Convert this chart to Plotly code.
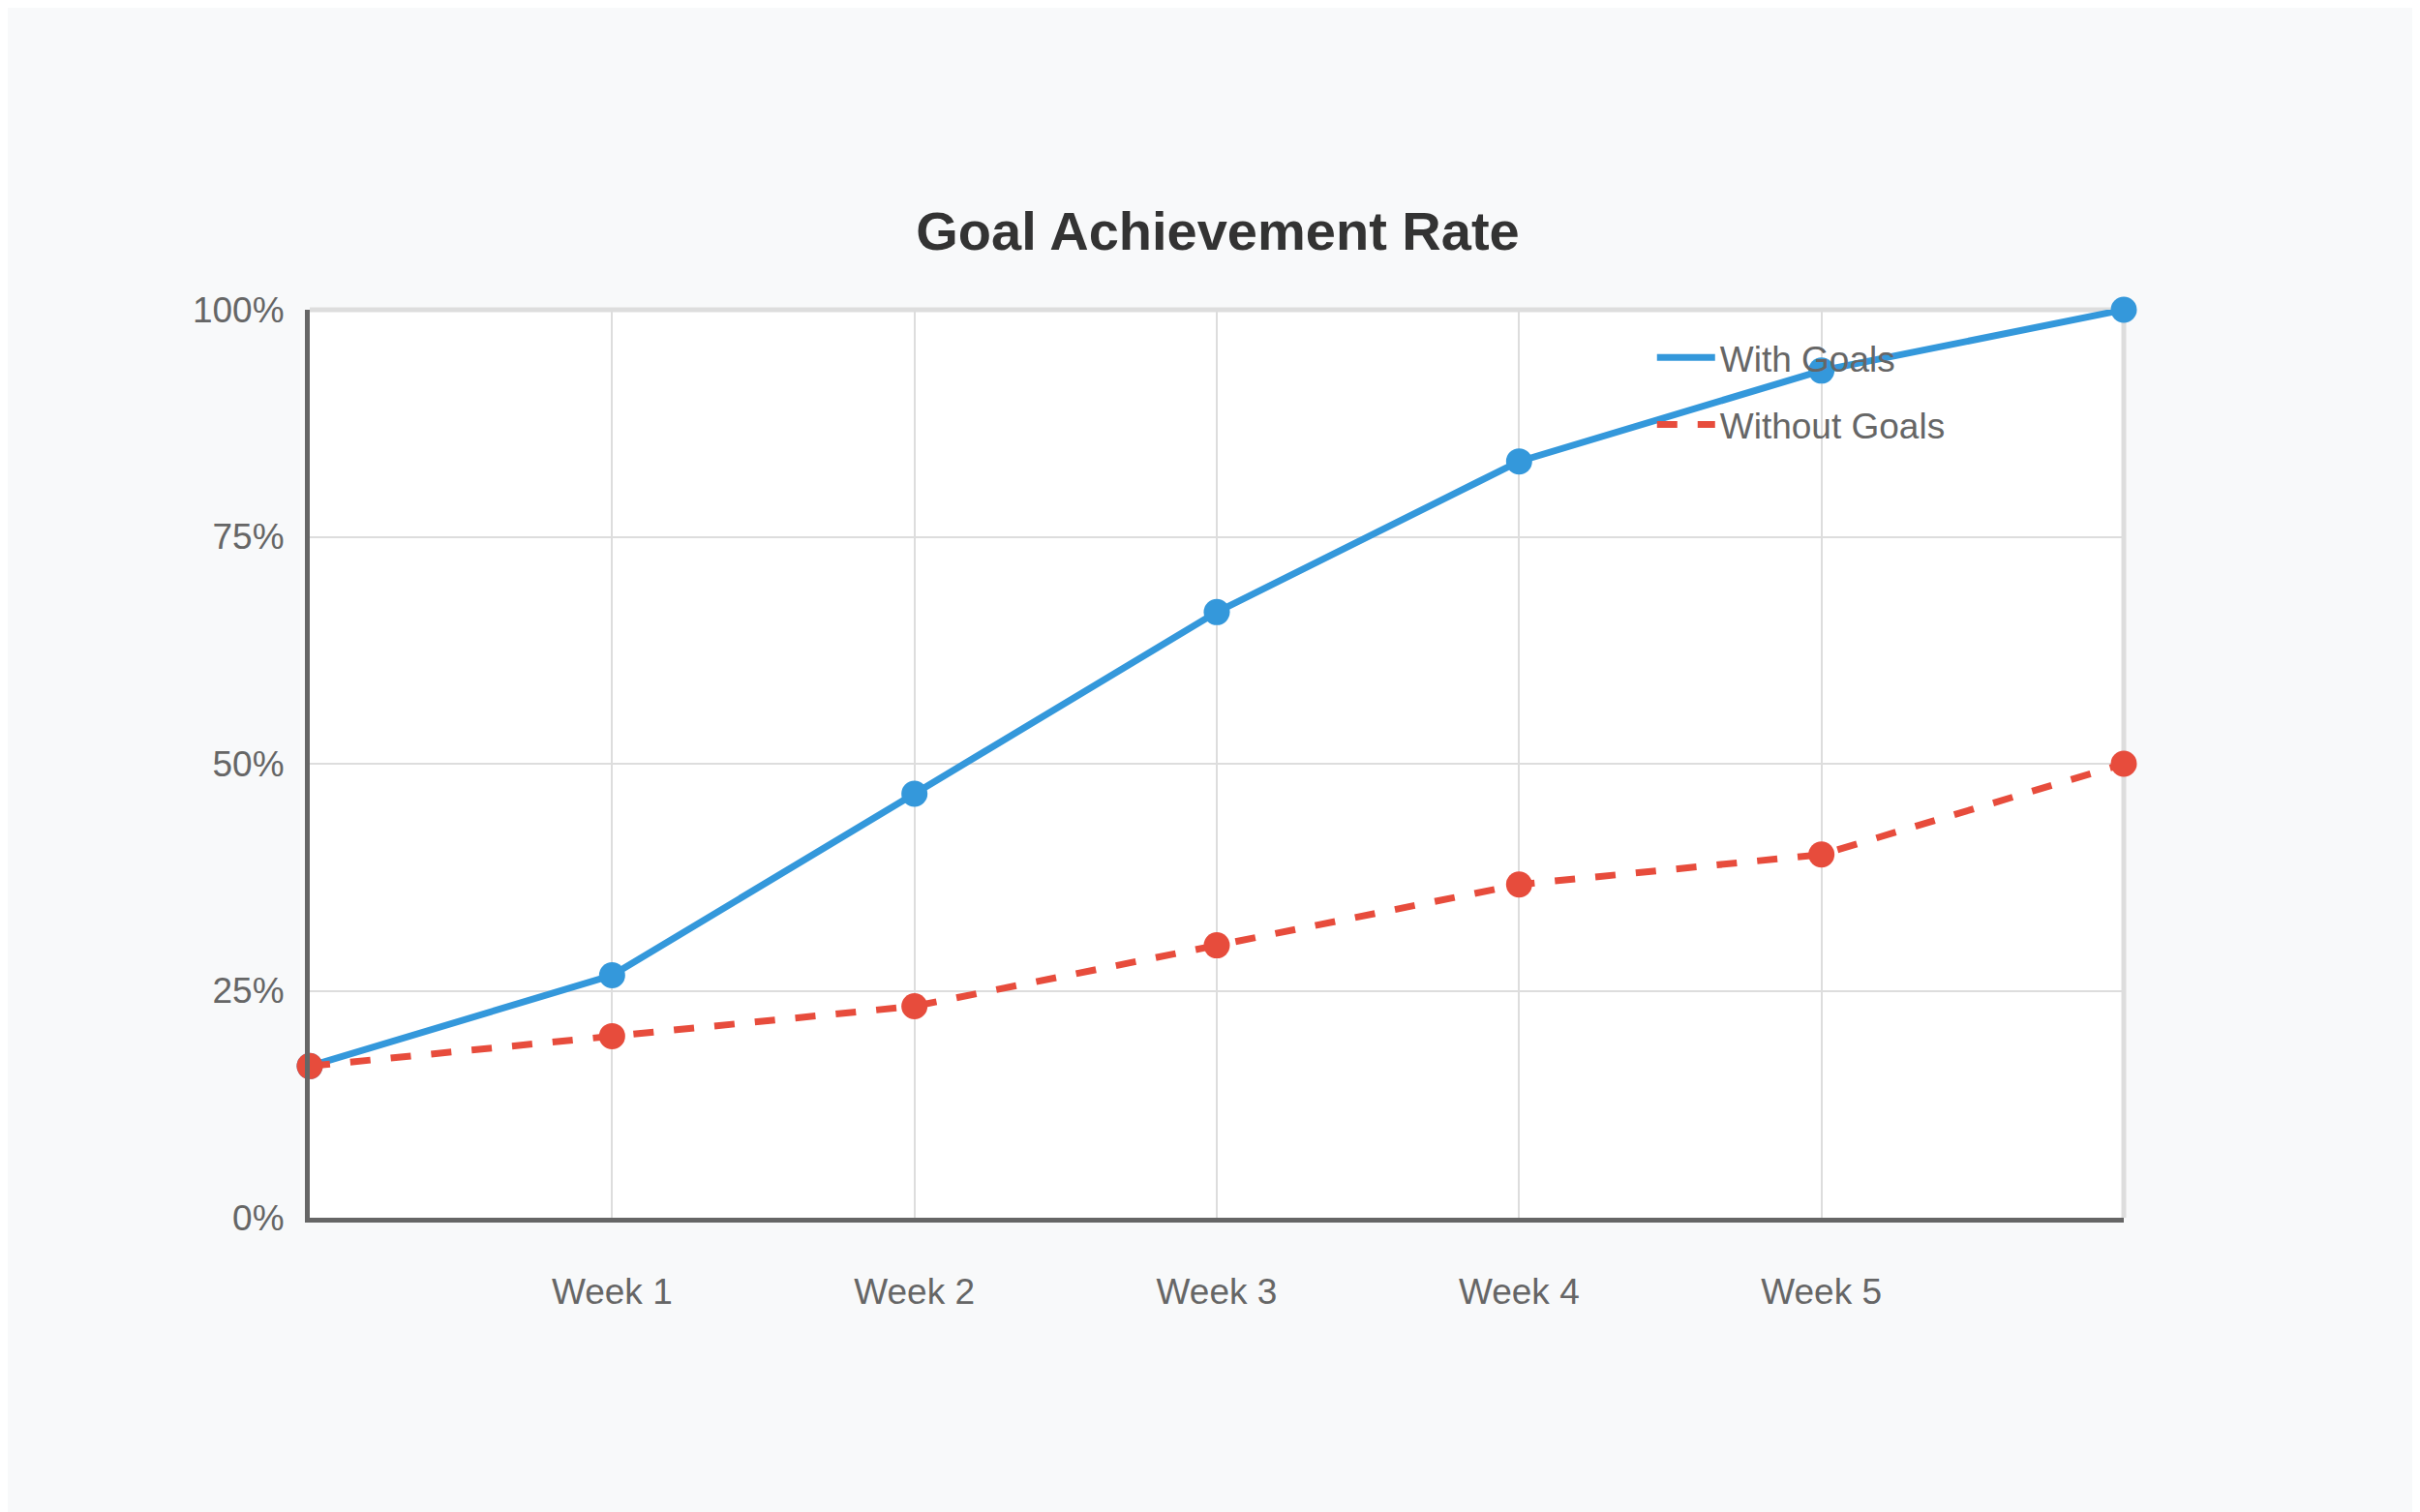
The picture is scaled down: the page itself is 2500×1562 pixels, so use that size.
import plotly.graph_objects as go

x_pos = [0, 1, 2, 3, 4, 5, 6]
tick_vals = [1, 2, 3, 4, 5]
tick_text = ["Week 1", "Week 2", "Week 3", "Week 4", "Week 5"]
with_goals = [16.7, 26.7, 46.7, 66.7, 83.3, 93.3, 100]
without_goals = [16.7, 20.0, 23.3, 30.0, 36.7, 40.0, 50.0]

fig = go.Figure()
fig.add_trace(go.Scatter(x=x_pos, y=with_goals, name="With Goals", mode="lines+markers", showlegend=False,
                         line=dict(color="#3498db", width=7), marker=dict(size=27, color="#3498db"), cliponaxis=False))
fig.add_trace(go.Scatter(x=x_pos, y=without_goals, name="Without Goals", mode="lines+markers", showlegend=False,
                         line=dict(color="#e74c3c", width=7, dash="dash"), marker=dict(size=27, color="#e74c3c"), cliponaxis=False))
# legend entries (line only)
fig.add_trace(go.Scatter(x=[None], y=[None], name="With Goals", mode="lines", legendgroup="a",
                         line=dict(color="#3498db", width=7)))
fig.add_trace(go.Scatter(x=[None], y=[None], name="Without Goals", mode="lines", legendgroup="b",
                         line=dict(color="#e74c3c", width=7, dash="dash")))

fig.update_layout(
    width=2500, height=1562,
    paper_bgcolor="#f8f9fa", plot_bgcolor="white",
    margin=dict(l=312, r=314, t=312, b=312),
    font=dict(family="Liberation Sans, Arial", size=37, color="#666"),
    title=dict(text="<b>Goal Achievement Rate</b>", x=0.5, xanchor="center", y=1 - 230/1562, yanchor="middle",
               font=dict(size=56, color="#333")),
    legend=dict(x=0.74, y=0.98, xanchor="left", yanchor="top", bgcolor="rgba(0,0,0,0)",
                font=dict(size=37, color="#666"), itemwidth=60, tracegroupgap=18),
    showlegend=True,
)
fig.update_xaxes(range=[0, 6], tickvals=tick_vals, ticktext=tick_text, showgrid=True, gridcolor="#dddddd", gridwidth=2,
                 showline=True, linecolor="#666", linewidth=5, mirror=False, zeroline=False, ticks="",
                 ticklabelstandoff=40)
fig.update_yaxes(range=[0, 100], tickvals=[0, 25, 50, 75, 100], ticktext=["0%", "25%", "50%", "75%", "100%"],
                 showgrid=True, gridcolor="#dddddd", gridwidth=2, showline=True, linecolor="#666", linewidth=5,
                 zeroline=False, ticklabelstandoff=14)
fig.add_shape(type="line", xref="paper", yref="paper", x0=0, x1=1, y0=1, y1=1, line=dict(color="#dddddd", width=5), layer="below")
fig.add_shape(type="line", xref="paper", yref="paper", x0=1, x1=1, y0=0, y1=1, line=dict(color="#dddddd", width=5), layer="below")
fig.write_html("out.html")
